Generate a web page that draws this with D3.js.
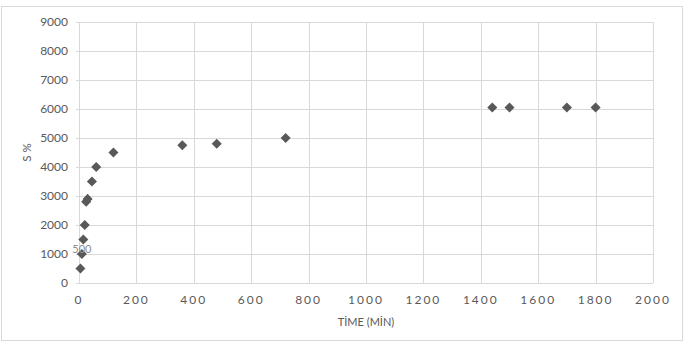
<!DOCTYPE html>
<html>
<head>
<meta charset="utf-8">
<script src="https://cdn.jsdelivr.net/npm/d3@7"></script>
<style>
  body { margin: 0; background: #fff; }
  text { font-family: Lato, "Open Sans", sans-serif; fill: #595959; }
</style>
</head>
<body>
<script>
// data
const timeMin = [5, 10, 15, 20, 25, 30, 45, 60, 120, 360, 480, 720, 1440, 1500, 1700, 1800];
const sPercent = [500, 1000, 1500, 2000, 2800, 2900, 3500, 4000, 4500, 4750, 4800, 5000, 6050, 6050, 6050, 6050];
const xTicks = [0, 200, 400, 600, 800, 1000, 1200, 1400, 1600, 1800, 2000];
const yTicks = [0, 1000, 2000, 3000, 4000, 5000, 6000, 7000, 8000, 9000];
const pointLabels = [{ index: 1, text: "500" }];

const width = 686, height = 343;
const margin = { top: 22, right: 33, bottom: 60, left: 79 };

const svg = d3.select("body").append("svg")
    .attr("width", width)
    .attr("height", height);

// outer chart border
svg.append("rect")
    .attr("x", 1.5).attr("y", 6.5)
    .attr("width", 681).attr("height", 334)
    .attr("fill", "#fff")
    .attr("stroke", "#d9d9d9");

const x = d3.scaleLinear().domain([0, 2000]).range([margin.left, width - margin.right]);
const y = d3.scaleLinear().domain([0, 9000]).range([height - margin.bottom, margin.top]);

// gridlines (with the small tick stubs left of the axis)
svg.append("g").selectAll("line")
    .data(yTicks)
    .enter().append("line")
    .attr("x1", x(0) - 3).attr("x2", x(2000))
    .attr("y1", d => Math.round(y(d)) + 0.5)
    .attr("y2", d => Math.round(y(d)) + 0.5)
    .attr("stroke", "#d9d9d9");

svg.append("g").selectAll("line")
    .data(xTicks)
    .enter().append("line")
    .attr("x1", d => Math.round(x(d)) + 0.5)
    .attr("x2", d => Math.round(x(d)) + 0.5)
    .attr("y1", y(0)).attr("y2", y(9000))
    .attr("stroke", "#d9d9d9");

// y axis labels
svg.append("g").selectAll("text")
    .data(yTicks)
    .enter().append("text")
    .attr("x", x(0) - 11)
    .attr("y", d => y(d))
    .attr("dy", "0.35em")
    .attr("text-anchor", "end")
    .style("font-size", "12px")
    .text(d => d);

// x axis labels
svg.append("g").selectAll("text")
    .data(xTicks)
    .enter().append("text")
    .attr("x", d => x(d))
    .attr("y", y(0) + 21)
    .attr("text-anchor", "middle")
    .style("font-size", "12px")
    .style("letter-spacing", "2px")
    .text(d => d);

// axis titles
svg.append("text")
    .attr("x", 366)
    .attr("y", 326)
    .attr("text-anchor", "middle")
    .style("font-size", "11px")
    .text("TİME (MİN)");

svg.append("text")
    .attr("transform", "translate(31," + ((y(0) + y(9000)) / 2) + ") rotate(-90)")
    .attr("text-anchor", "middle")
    .style("font-size", "11.5px")
    .text("S %");

// diamond markers
svg.append("g").selectAll("path")
    .data(timeMin)
    .enter().append("path")
    .attr("transform", (d, i) => "translate(" + x(d) + "," + y(sPercent[i]) + ") rotate(45) scale(0.85)")
    .attr("d", d3.symbol().type(d3.symbolSquare).size(70))
    .attr("fill", "#595959");

// data label
svg.append("g").selectAll("text")
    .data(pointLabels)
    .enter().append("text")
    .attr("x", d => x(timeMin[d.index]))
    .attr("y", d => y(sPercent[d.index]) - 1)
    .attr("text-anchor", "middle")
    .style("font-size", "11px")
    .style("fill", "#8c8c8c")
    .text(d => d.text);
</script>
</body>
</html>
